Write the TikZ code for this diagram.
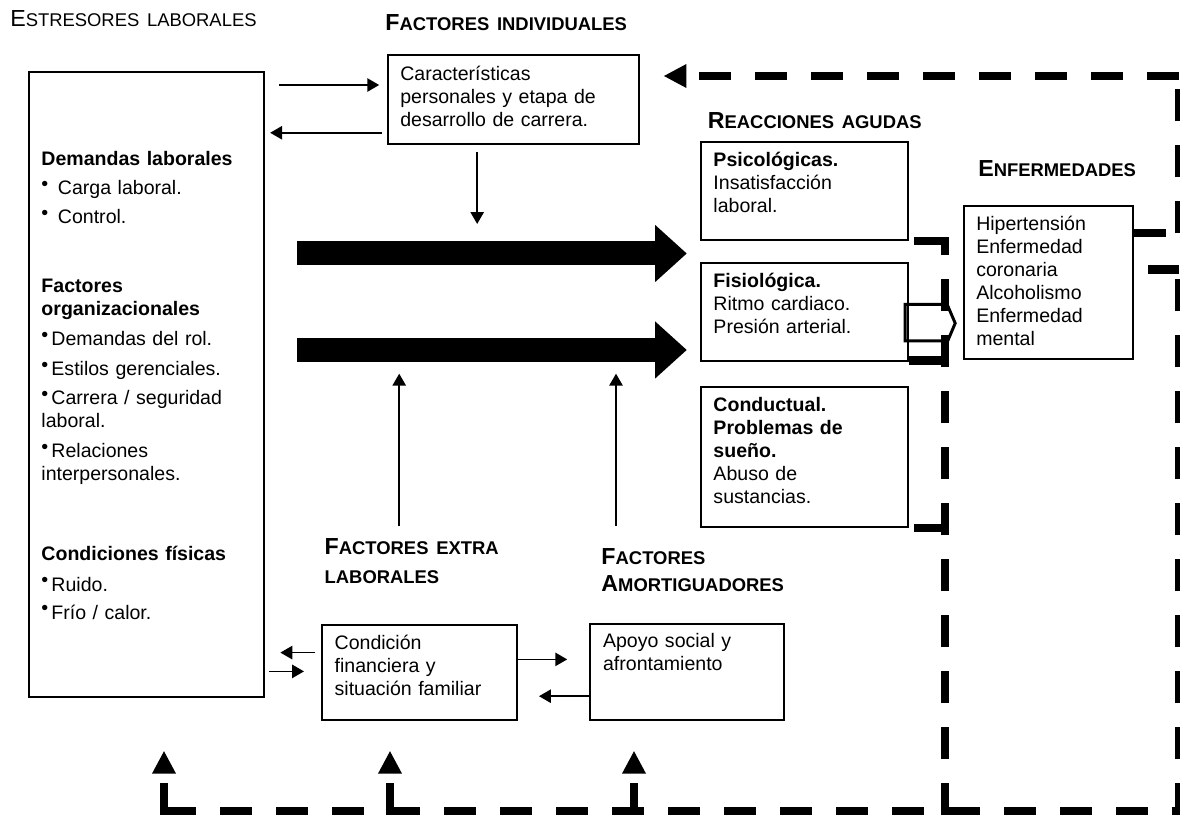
\documentclass[tikz,border=0pt]{standalone}
\usepackage{fontspec}
\setmainfont{Liberation Sans}
\usepackage{tikz}
\usetikzlibrary{arrows.meta}
\newcommand{\cuerpo}{\fontsize{13.9pt}{16.4pt}\selectfont}
\newcommand{\versal}[2]{{\fontsize{16.5pt}{20pt}\selectfont #1}{\fontsize{13.1pt}{20pt}\selectfont #2}}
\newcommand{\pto}{\raisebox{3pt}{\fontsize{14pt}{14pt}\selectfont •}\kern2.2pt}
\tikzset{
  caja/.style={draw, line width=1.4pt, inner sep=0pt, anchor=north west},
  texto/.style={anchor=base west, inner sep=0pt, align=left, font=\cuerpo},
  titulo/.style={anchor=base west, inner sep=0pt, align=left, text width=8cm, font=\fontsize{16.5pt}{20pt}\selectfont\bfseries},
  flecha/.style={line width=1.2pt, -{Triangle[length=8.5pt,width=9.5pt]}},
  gruesa/.style={line width=0.6cm, -{Triangle[length=0.79cm,width=1.43cm,line width=0pt]}},
  lazo/.style={line width=6pt, dash pattern=on 0.8cm off 0.6cm},
  punta/.style={-{Triangle[length=0.56cm,width=0.6cm,line width=0pt]}},
  bloque/.style={line width=2.1pt, line join=miter}
}
\begin{document}
\begin{tikzpicture}
\useasboundingbox (0,0) rectangle (29.5,-20.4);
\node[caja, minimum width=5.87cm, minimum height=15.62cm] (estres) at (0.71,-1.77) {};
\node[caja, minimum width=6.28cm, minimum height=2.22cm] (indiv) at (9.67,-1.35) {};
\node[caja, minimum width=5.18cm, minimum height=2.45cm] (psico) at (17.5,-3.53) {};
\node[caja, minimum width=5.17cm, minimum height=2.44cm] (fisio) at (17.5,-6.56) {};
\node[caja, minimum width=5.17cm, minimum height=3.5cm] (conduc) at (17.5,-9.65) {};
\node[caja, minimum width=4.24cm, minimum height=3.84cm] (enferm) at (24.07,-5.12) {};
\node[caja, minimum width=4.88cm, minimum height=2.38cm] (extra) at (8.02,-15.59) {};
\node[caja, minimum width=4.85cm, minimum height=2.4cm] (amort) at (14.73,-15.57) {};

\node[titulo, font=\fontsize{16.5pt}{20pt}\selectfont] (titEstres) at (0.25,-0.65) {\versal{E}{STRESORES LABORALES}};
\node[titulo] (titIndiv) at (9.63,-0.75) {\versal{F}{ACTORES INDIVIDUALES}};
\node[titulo] (titReacc) at (17.69,-3.21) {\versal{R}{EACCIONES AGUDAS}};
\node[titulo] (titEnferm) at (24.45,-4.4) {\versal{E}{NFERMEDADES}};
\node[titulo] (titExtra) at (8.11,-13.86) {\versal{F}{ACTORES EXTRA}\\[0.9pt]\versal{}{LABORALES}};
\node[titulo] (titAmort) at (15.03,-14.11) {\versal{F}{ACTORES}\\[-1pt]\versal{A}{MORTIGUADORES}};

\node[texto, text width=5.4cm] (txtEstres) at (1.03,-4.13) {\textbf{Demandas laborales}\\[4.3pt]
\pto\ Carga laboral.\\[4.3pt]
\pto\ Control.\\[32.7pt]
\textbf{Factores}\\
\textbf{organizacionales}\\[5pt]
\pto Demandas del rol.\\[5pt]
\pto Estilos gerenciales.\\[4.3pt]
\pto Carrera / seguridad\\
laboral.\\[5pt]
\pto Relaciones\\
interpersonales.\\[40.5pt]
\textbf{Condiciones físicas}\\[5pt]
\pto Ruido.\\[3.6pt]
\pto Frío / calor.};
\node[texto, text width=5.9cm] (txtIndiv) at (10,-2) {Características\\personales y etapa de\\desarrollo de carrera.};
\node[texto, text width=4.7cm] (txtPsico) at (17.83,-4.15) {\textbf{Psicológicas.}\\Insatisfacción\\laboral.};
\node[texto, text width=4.7cm] (txtFisio) at (17.83,-7.18) {\textbf{Fisiológica.}\\Ritmo cardiaco.\\Presión arterial.};
\node[texto, text width=4.7cm] (txtConduc) at (17.83,-10.28) {\textbf{Conductual.}\\\textbf{Problemas de}\\\textbf{sueño.}\\Abuso de\\sustancias.};
\node[texto, text width=3.8cm] (txtEnferm) at (24.4,-5.76) {Hipertensión\\Enfermedad\\coronaria\\Alcoholismo\\Enfermedad\\mental};
\node[texto, text width=4.4cm] (txtExtra) at (8.36,-16.24) {Condición\\financiera y\\situación familiar};
\node[texto, text width=4.5cm] (txtAmort) at (15.07,-16.18) {Apoyo social y\\afrontamiento};

\draw[flecha] ([xshift=.35cm,yshift=-.775cm]estres.east |- indiv.north) -- ([xshift=-.19cm,yshift=-.775cm]indiv.north west);
\draw[flecha] ([xshift=-.125cm,yshift=.3cm]indiv.south west) -- ([xshift=.125cm,yshift=.3cm]estres.east |- indiv.south);
\draw[flecha] ([xshift=-.905cm,yshift=-.18cm]indiv.south) -- ++(0,-1.8);
\draw[gruesa] ([xshift=.8cm,yshift=-.308cm]estres.east |- psico.south) -- ([xshift=-.333cm,yshift=-.308cm]psico.south west);
\draw[gruesa] ([xshift=.8cm,yshift=.3cm]estres.east |- fisio.south) -- ([xshift=-.333cm,yshift=.3cm]fisio.south west);
\coordinate (pe) at (9.98,-13.15);
\coordinate (pa) at (15.4,-13.15);
\draw[flecha] (pe) -- ([yshift=-.293cm]pe |- fisio.south);
\draw[flecha] (pa) -- ([yshift=-.293cm]pa |- fisio.south);
\draw[flecha] ([xshift=-.14cm,yshift=.49cm]extra.west) -- ([xshift=.38cm,yshift=.49cm]estres.east |- extra.west);
\draw[flecha] ([xshift=.1cm,yshift=.02cm]estres.east |- extra.west) -- ([xshift=-.42cm,yshift=.02cm]extra.west);
\draw[flecha] ([yshift=.32cm]extra.east) -- ([xshift=-.55cm,yshift=.32cm]extra.east -| amort.west);
\draw[flecha] ([yshift=-.61cm]amort.west) -- ([xshift=.525cm,yshift=-.61cm]amort.west -| extra.east);
\draw[bloque] (22.63,-7.61) -- (23.58,-7.61) -- (23.58,-7.38) -- (23.88,-8.08) -- (23.58,-8.79) -- (23.58,-8.52) -- (22.63,-8.52) -- cycle;

\coordinate (b0) at (4.1,-20.38);
\coordinate (b1) at (9.75,-20.38);
\coordinate (b2) at (15.85,-20.38);
\coordinate (b3) at (23.63,-20.38);
\coordinate (b4) at (29.47,-20.38);
\coordinate (e1) at ([yshift=-.71cm]enferm.north east);
\coordinate (e2) at (28.7,-6.74);
\coordinate (esq) at (29.47,-1.9);
\draw[lazo] ([yshift=.105cm]b0) -- ([yshift=.105cm]b4);
\draw[lazo] (b4) -- (b4 |- e2);
\draw[lazo] (e2) -- (b4 |- e2);
\draw[lazo] (b3) -- ([yshift=.1cm]b3 |- psico.south east);
\draw[lazo] ([xshift=.12cm]psico.south east) -- ++(.83,0);
\draw[lazo] ([yshift=.04cm]fisio.south east) -- ++(.8,0);
\draw[lazo] ([xshift=.13cm]conduc.south east) -- ++(.82,0);
\draw[lazo] (e1) -- (e1 -| esq);
\draw[lazo] (e1 -| esq) -- (esq);
\draw[lazo,punta] (esq) -- ([xshift=.6cm]indiv.east |- esq);
\draw[lazo,punta] (b0) -- ++(0,1.6);
\draw[lazo,punta] (b1) -- ++(0,1.6);
\draw[lazo,punta] (b2) -- ++(0,1.6);
\end{tikzpicture}
\end{document}
